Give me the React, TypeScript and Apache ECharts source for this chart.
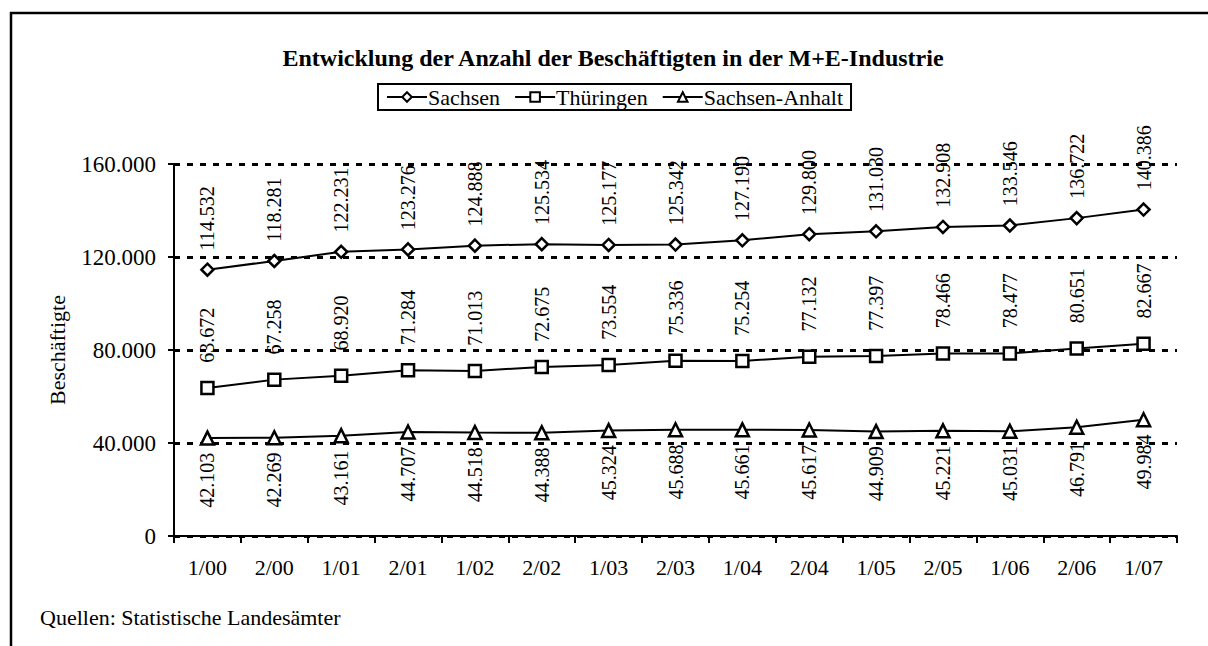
import React, { useEffect, useRef } from "react";
import * as echarts from "echarts";

const categories = ["1/00","2/00","1/01","2/01","1/02","2/02","1/03","2/03","1/04","2/04","1/05","2/05","1/06","2/06","1/07"];
const sachsen = [114532,118281,122231,123276,124888,125534,125177,125342,127190,129800,131030,132908,133546,136722,140386];
const thueringen = [63672,67258,68920,71284,71013,72675,73554,75336,75254,77132,77397,78466,78477,80651,82667];
const sachsenAnhalt = [42103,42269,43161,44707,44518,44388,45324,45688,45661,45617,44909,45221,45031,46791,49984];
const yTicks = [0, 40000, 80000, 120000, 160000];

const FONT = "'Liberation Serif', 'Times New Roman', serif";

function fmt(v: number): string {
  const s = Math.round(v).toString();
  return s.replace(/\B(?=(\d{3})+(?!\d))/g, ".");
}

export default function App() {
  const ref = useRef<HTMLDivElement>(null);
  useEffect(() => {
    document.body.style.margin = "0";
    const chart = echarts.init(ref.current!, undefined, { renderer: "svg" });
    const mkSeries = (name: string, data: number[], symbol: string, pos: "top" | "bottom", dist: number) => ({
      name,
      type: "line",
      data,
      symbol,
      symbolSize: symbol === "triangle" ? 13 : 12,
      lineStyle: { color: "#000", width: 2 },
      itemStyle: { color: "#fff", borderColor: "#000", borderWidth: 2.5 },
      label: {
        show: true,
        position: pos,
        distance: dist,
        rotate: 90,
        align: pos === "top" ? "left" : "right",
        verticalAlign: "middle",
        fontFamily: FONT,
        fontSize: 20,
        color: "#000",
        formatter: (p: any) => fmt(p.value),
      },
      z: 3,
    });
    chart.setOption({
      animation: false,
      backgroundColor: "#fff",
      textStyle: { fontFamily: FONT, color: "#000" },
      title: {
        text: "Entwicklung der Anzahl der Beschäftigten in der M+E-Industrie",
        left: 613,
        textAlign: "center",
        top: 46,
        padding: 0,
        textStyle: { fontFamily: FONT, fontSize: 24, fontWeight: "bold", color: "#000" },
      },
      legend: {
        data: ["Sachsen", "Thüringen", "Sachsen-Anhalt"],
        left: 378,
        top: 84,
        padding: [2, 8, 2, 8],
        borderColor: "#000",
        borderWidth: 2,
        itemWidth: 40,
        itemHeight: 12,
        itemGap: 14,
        textStyle: { fontFamily: FONT, fontSize: 22, color: "#000", padding: [0, 0, 0, -4] },
      },
      grid: { left: 174, right: 31, top: 164, bottom: 110, containLabel: false },
      xAxis: {
        type: "category",
        data: categories,
        boundaryGap: true,
        axisLine: { show: true, lineStyle: { color: "#000", width: 2 } },
        axisTick: { show: true, length: 7, lineStyle: { color: "#000", width: 2 } },
        axisLabel: { fontFamily: FONT, fontSize: 22, color: "#000", margin: 20 },
        splitLine: { show: false },
      },
      yAxis: {
        type: "value",
        min: 0,
        max: 160000,
        interval: 40000,
        name: "Beschäftigte",
        nameLocation: "middle",
        nameGap: 106,
        nameTextStyle: { fontFamily: FONT, fontSize: 22, color: "#000" },
        axisLine: { show: true, lineStyle: { color: "#000", width: 2 } },
        axisTick: { show: true, length: 6, lineStyle: { color: "#000", width: 2 } },
        axisLabel: {
          fontFamily: FONT,
          fontSize: 23,
          color: "#000",
          margin: 18,
          formatter: (v: number) => (yTicks.indexOf(v) >= 0 ? fmt(v) : ""),
        },
        splitLine: { show: true, lineStyle: { color: "#000", width: 3, type: [6, 7] } },
      },
      graphic: [
        { type: "line", shape: { x1: 11, y1: 12, x2: 11, y2: 646 }, style: { stroke: "#000", lineWidth: 2.5 } },
        { type: "line", shape: { x1: 10, y1: 13, x2: 1208, y2: 13 }, style: { stroke: "#000", lineWidth: 2.5 } },
        {
          type: "text",
          left: 40,
          top: 606,
          style: { text: "Quellen: Statistische Landesämter", fontFamily: FONT, fontSize: 22, fill: "#000" },
        },
      ],
      series: [
        mkSeries("Sachsen", sachsen, "diamond", "top", 12),
        mkSeries("Thüringen", thueringen, "rect", "top", 18),
        mkSeries("Sachsen-Anhalt", sachsenAnhalt, "triangle", "bottom", 7),
      ],
    });
    return () => chart.dispose();
  }, []);
  return <div ref={ref} style={{ width: 1208, height: 646 }} />;
}
